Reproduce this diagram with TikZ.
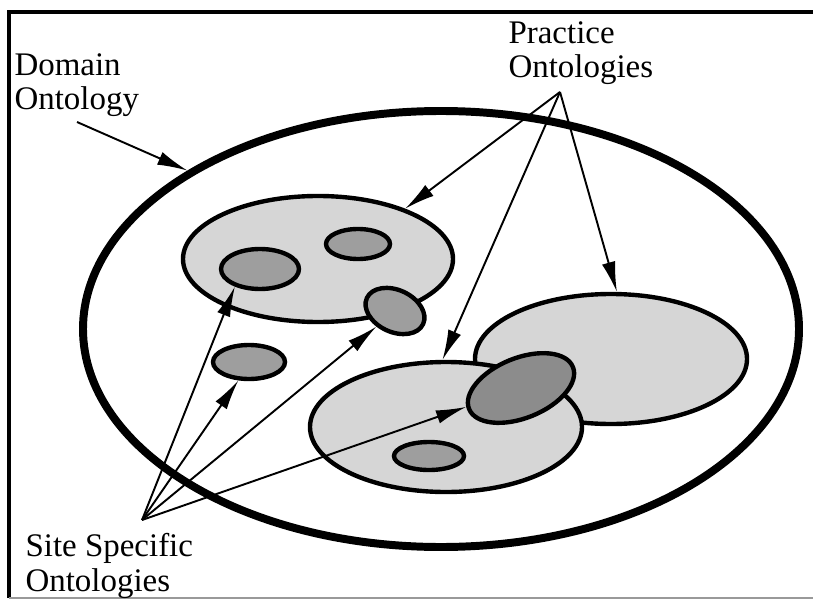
\documentclass[tikz,border=0pt]{standalone}
\usepackage{fontspec}
\setmainfont{Liberation Serif}
\usetikzlibrary{shapes.geometric,arrows.meta}
\begin{document}
\begin{tikzpicture}[x=0.0128cm, y=-0.0128cm,
  font=\fontsize{12}{12.5}\selectfont,
  oval/.style 2 args={ellipse, draw, line width=1.6pt, inner sep=0pt,
    minimum width=#1*0.0128cm, minimum height=#2*0.0128cm},
  practice/.style={fill=black!16},
  site/.style={fill=black!38},
  lbl/.style={anchor=north west, inner sep=0pt, align=left},
  arr/.style={-{Latex[length=11pt,width=5pt]}, line width=0.7pt}]
  \useasboundingbox (0,0) rectangle (813,601);
  % frame
  \draw[line width=1.1pt] (813,12) -- (9,12) -- (9,598);
  \draw[line width=0.6pt, black!40] (9,598) -- (813,598);

  % domain and practice ontologies
  \node[oval={716}{436}, line width=2.9pt] (dom) at (441,329) {};
  \node[oval={270}{126}, practice] (pa) at (318,259) {};
  \node[oval={78}{40}, site] (s1) at (260,269) {};
  \node[oval={64}{30}, site] (s2) at (358,244) {};
  \node[oval={62}{42}, site, rotate=-25] (s3) at (395,311) {};
  \node[oval={72}{34}, site] (s4) at (249,362) {};
  \node[oval={272}{130}, practice] (pb) at (611,359) {};
  \node[oval={272}{130}, practice] (pc) at (446,427) {};
  \node[oval={112}{60}, site, fill=black!45, rotate=22] (s5) at (521,388) {};
  \node[oval={70}{28}, site] (s6) at (429,456) {};

  % labels
  \node[lbl] (ldom) at (14,53) {Domain\\Ontology};
  \node[lbl] (lprac) at (508,21) {Practice\\Ontologies};
  \node[lbl] (lsite) at (25,533) {Site Specific\\Ontologies};
  \coordinate (pd) at (77,122);
  \coordinate (pp) at (560,92);
  \coordinate (ps) at (142,520);

  \draw[arr] (pd) -- (dom.148);
  \foreach \t in {pa.30, pc.93, pb.85} \draw[arr] (pp) -- (\t);
  \foreach \t in {s1.215, s4.240, s3.245, s5.177} \draw[arr] (ps) -- (\t);
\end{tikzpicture}
\end{document}
